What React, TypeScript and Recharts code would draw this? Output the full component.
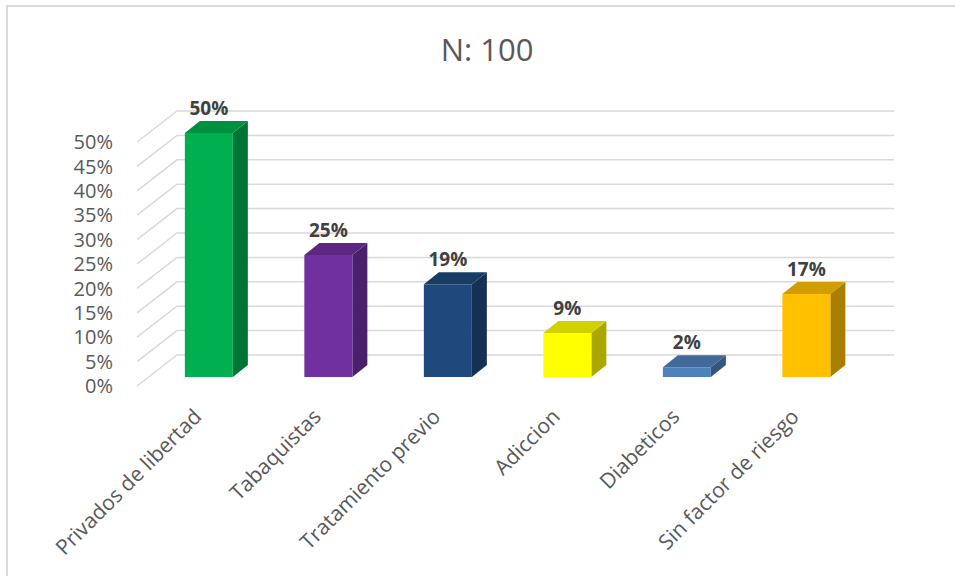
import React from "react";
import {
  BarChart,
  Bar,
  XAxis,
  YAxis,
  CartesianGrid,
  Cell,
  LabelList,
} from "recharts";

const categories = [
  "Privados de libertad",
  "Tabaquistas",
  "Tratamiento previo",
  "Adiccion",
  "Diabeticos",
  "Sin factor de riesgo",
];
const percentages = [50, 25, 19, 9, 2, 17];
const yTicks = [0, 5, 10, 15, 20, 25, 30, 35, 40, 45, 50];
const barColors = ["#00b050", "#7030a0", "#1f497d", "#ffff00", "#4f81bd", "#ffc000"];

const data = categories.map((name, i) => ({ name, value: percentages[i] }));

const W = 955;
const H = 576;
const PLOT_LEFT = 149;
const PLOT_TOP = 133;
const PLOT_BOTTOM = 377;
const PLOT_RIGHT = 866;
// wall / front-edge offsets relative to the bar plane
const WALL_DX = 28;
const WALL_DY = -22;
const FRONT_DX = -12;
const FRONT_DY = 9;
// bar depth
const DEPTH_X = 15;
const DEPTH_Y = 12;

const FONT = "'Open Sans', sans-serif";
const GRID = "#d9d9d9";

function shade(hex: string, f: number) {
  const n = parseInt(hex.slice(1), 16);
  const r = Math.round(((n >> 16) & 255) * f);
  const g = Math.round(((n >> 8) & 255) * f);
  const b = Math.round((n & 255) * f);
  return `rgb(${r},${g},${b})`;
}

const Bar3D = (props: any) => {
  const { x, y, width, height, fill } = props;
  if (!width || height == null) return null;
  const top = `${x},${y} ${x + DEPTH_X},${y - DEPTH_Y} ${x + width + DEPTH_X},${y - DEPTH_Y} ${x + width},${y}`;
  const side = `${x + width},${y} ${x + width + DEPTH_X},${y - DEPTH_Y} ${x + width + DEPTH_X},${y + height - DEPTH_Y} ${x + width},${y + height}`;
  return (
    <g>
      <polygon points={side} fill={shade(fill, 0.66)} />
      <polygon points={top} fill={shade(fill, 0.82)} />
      <rect x={x} y={y} width={width} height={height} fill={fill} />
    </g>
  );
};

const gridLine = (props: any) => {
  const { x1, x2, y1, index } = props;
  const pts = `${x1 + FRONT_DX},${y1 + FRONT_DY} ${x1 + WALL_DX},${y1 + WALL_DY} ${x2 + WALL_DX},${y1 + WALL_DY}`;
  return (
    <polyline
      key={`g-${index}`}
      points={pts}
      fill="none"
      stroke={GRID}
      strokeWidth={1.5}
    />
  );
};

const YTick = (props: any) => {
  const { y, payload } = props;
  return (
    <text
      x={PLOT_LEFT + FRONT_DX - 24}
      y={y + FRONT_DY}
      dy="0.36em"
      textAnchor="end"
      fontFamily={FONT}
      fontSize={20}
      fill="#595959"
    >
      {payload.value}%
    </text>
  );
};

const XTick = (props: any) => {
  const { x, payload } = props;
  const ax = x - 6;
  const ay = PLOT_BOTTOM + 41;
  return (
    <text
      x={ax}
      y={ay}
      textAnchor="end"
      transform={`rotate(-45 ${ax} ${ay})`}
      fontFamily={FONT}
      fontSize={21}
      fill="#595959"
    >
      {payload.value}
    </text>
  );
};

const ValueLabel = (props: any) => {
  const { x, y, width, value } = props;
  return (
    <text
      x={x + width / 2}
      y={y - 18}
      textAnchor="middle"
      fontFamily={FONT}
      fontWeight="bold"
      fontSize={19}
      fill="#404040"
    >
      {value}%
    </text>
  );
};

export default function App() {
  return (
    <div
      style={{
        position: "fixed",
        left: 0,
        top: 0,
        width: W,
        height: H,
        overflow: "hidden",
        background: "#fff",
      }}
    >
      <div
        style={{
          position: "absolute",
          left: 6,
          top: 5,
          width: W + 20,
          height: H + 20,
          border: `2px solid ${GRID}`,
          boxSizing: "border-box",
        }}
      />
      <div
        style={{
          position: "absolute",
          left: 387,
          top: 28,
          width: 200,
          textAlign: "center",
          fontFamily: FONT,
          fontSize: 31,
          color: "#595959",
          lineHeight: "normal",
        }}
      >
        N: 100
      </div>
      <div style={{ position: "absolute", left: 0, top: 0 }}>
        <BarChart
          width={W}
          height={H}
          data={data}
          margin={{ top: PLOT_TOP, right: W - PLOT_RIGHT, left: 0, bottom: 0 }}
          barCategoryGap="30%"
        >
          <CartesianGrid vertical={false} horizontal={gridLine} />
          <YAxis
            width={PLOT_LEFT}
            domain={[0, 50]}
            ticks={yTicks}
            axisLine={false}
            tickLine={false}
            tick={<YTick />}
            interval={0}
          />
          <XAxis
            dataKey="name"
            height={H - PLOT_BOTTOM}
            axisLine={false}
            tickLine={false}
            interval={0}
            tick={<XTick />}
          />
          <Bar dataKey="value" shape={<Bar3D />} isAnimationActive={false}>
            {data.map((d, i) => (
              <Cell key={d.name} fill={barColors[i]} />
            ))}
            <LabelList dataKey="value" content={<ValueLabel />} />
          </Bar>
        </BarChart>
      </div>
    </div>
  );
}
